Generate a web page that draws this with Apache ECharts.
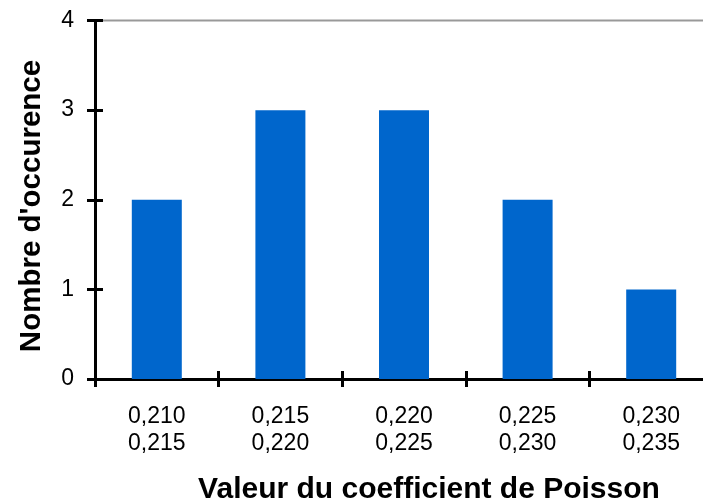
<!DOCTYPE html>
<html>
<head>
<meta charset="utf-8">
<script src="https://cdn.jsdelivr.net/npm/echarts@6/dist/echarts.min.js"></script>
<style>
  html, body { margin: 0; padding: 0; background: #fff; }
  #chart { width: 703px; height: 504px; }
</style>
</head>
<body>
<div id="chart"></div>
<script>
// Histogram of Poisson's ratio values, grouped in bins of 0.005
const binLabels = ['0,210\n0,215', '0,215\n0,220', '0,220\n0,225', '0,225\n0,230', '0,230\n0,235'];
const occurrences = [2, 3, 3, 2, 1];
const yTicks = [0, 1, 2, 3, 4];

const xTitle = 'Valeur du coefficient de Poisson';
const yTitle = "Nombre d'occurence";

const font = '"Liberation Sans", Arial, sans-serif';
const chart = echarts.init(document.getElementById('chart'), null, { renderer: 'canvas' });

const yMin = yTicks[0];
const yMax = yTicks[yTicks.length - 1];

const baseX = {
  type: 'category',
  data: binLabels,
  position: 'bottom',
  boundaryGap: true
};
const baseY = {
  type: 'value',
  min: yMin,
  max: yMax,
  interval: 1,
  position: 'left',
  splitLine: { show: false }
};

chart.setOption({
  animation: false,
  backgroundColor: '#ffffff',
  grid: {
    left: 95, width: 618, top: 20.5, bottom: 125,
    containLabel: false,
    outerBoundsMode: 'none',
    show: true, borderColor: '#999999', borderWidth: 2,
    backgroundColor: 'transparent'
  },
  xAxis: [
    Object.assign({}, baseX, {
      axisLine: { show: true, lineStyle: { color: '#000', width: 3 } },
      axisTick: { show: true, inside: false, length: 8, lineStyle: { color: '#000', width: 3 } },
      axisLabel: { show: true, color: '#000', fontFamily: font, fontSize: 23, lineHeight: 27, margin: 24 }
    }),
    Object.assign({}, baseX, {
      axisLine: { show: false },
      axisTick: { show: true, inside: true, length: 8, lineStyle: { color: '#000', width: 3 } },
      axisLabel: { show: false }
    })
  ],
  yAxis: [
    Object.assign({}, baseY, {
      axisLine: { show: true, lineStyle: { color: '#000', width: 3 } },
      axisTick: { show: true, inside: false, length: 8, lineStyle: { color: '#000', width: 3 } },
      axisLabel: { show: true, color: '#000', fontFamily: font, fontSize: 23, margin: 21 }
    }),
    Object.assign({}, baseY, {
      axisLine: { show: false },
      axisTick: { show: true, inside: true, length: 8, lineStyle: { color: '#000', width: 3 } },
      axisLabel: { show: false }
    })
  ],
  series: [{
    type: 'bar',
    xAxisIndex: 0,
    yAxisIndex: 0,
    data: occurrences,
    barWidth: 50,
    itemStyle: { color: '#0066cc' }
  }],
  graphic: [
    {
      type: 'text',
      x: 429, y: 490,
      style: {
        text: xTitle,
        font: 'bold 30px ' + font,
        fill: '#000',
        align: 'center',
        verticalAlign: 'middle'
      }
    },
    {
      type: 'text',
      x: 32, y: 206,
      rotation: Math.PI / 2,
      style: {
        text: yTitle,
        font: 'bold 29.5px ' + font,
        fill: '#000',
        align: 'center',
        verticalAlign: 'middle'
      }
    }
  ]
});
</script>
</body>
</html>
